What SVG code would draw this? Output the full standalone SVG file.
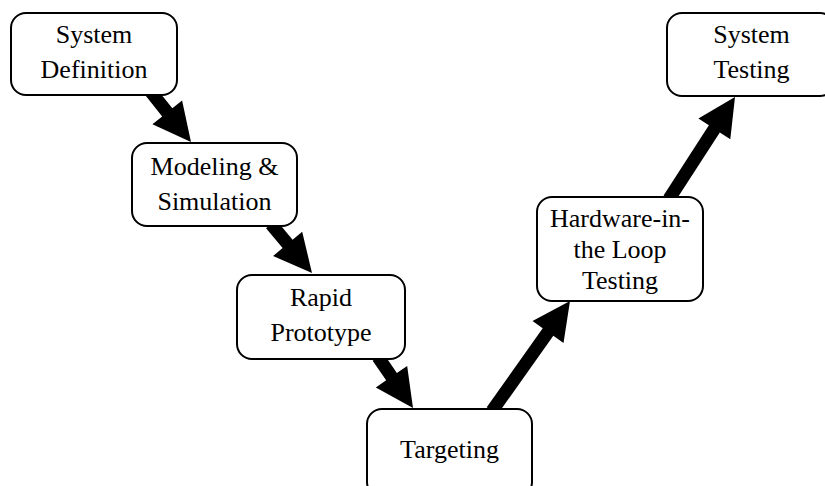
<svg xmlns="http://www.w3.org/2000/svg" width="825" height="486" viewBox="0 0 825 486">
  <style>
    .box { fill: #ffffff; stroke: #000000; stroke-width: 2; }
    .label { font-family: "Liberation Serif", "Times New Roman", serif; font-size: 26px; fill: #000000; text-anchor: middle; }
    .arrow { fill: #000000; stroke: none; }
  </style>
  <rect width="825" height="486" fill="#ffffff"/>

  <!-- thick block arrows between stages -->
  <g id="connectors">
    <polygon class="arrow" points="156.08,87.94 172.34,108.27 182.10,100.46 191,142 152.42,124.20 162.18,116.39 145.92,96.06"/>
    <polygon class="arrow" points="275.98,219.83 292.60,239.69 302.19,231.67 312,273 273.05,256.05 282.64,248.03 266.02,228.17"/>
    <polygon class="arrow" points="383.36,353.32 396.86,372.99 407.17,365.92 413,408 375.83,387.42 386.14,380.35 372.64,360.68"/>
    <polygon class="arrow" points="486.70,407.24 542.72,328.24 532.52,321.01 570,301 563.52,342.99 553.32,335.76 497.30,414.76"/>
    <polygon class="arrow" points="663.54,195.47 708.89,125.37 698.40,118.58 735,97 730.30,139.22 719.81,132.43 674.46,202.53"/>
  </g>

  <g id="system-definition">
    <rect class="box" x="11" y="13" width="166" height="82" rx="15" ry="15"/>
    <text class="label" x="94" y="43">System</text>
    <text class="label" x="94" y="78">Definition</text>
  </g>

  <g id="modeling-simulation">
    <rect class="box" x="132" y="143" width="165" height="83" rx="15" ry="15"/>
    <text class="label" x="214.5" y="174.5">Modeling &amp;</text>
    <text class="label" x="214.5" y="210">Simulation</text>
  </g>

  <g id="rapid-prototype">
    <rect class="box" x="237" y="275" width="168" height="84" rx="15" ry="15"/>
    <text class="label" x="321" y="305.5">Rapid</text>
    <text class="label" x="321" y="341">Prototype</text>
  </g>

  <g id="targeting">
    <rect class="box" x="367" y="409" width="165" height="88" rx="15" ry="15"/>
    <text class="label" x="449.5" y="458">Targeting</text>
  </g>

  <g id="hardware-in-the-loop">
    <rect class="box" x="537" y="197" width="166" height="104" rx="15" ry="15"/>
    <text class="label" x="620" y="227">Hardware-in-</text>
    <text class="label" x="620" y="258">the Loop</text>
    <text class="label" x="620" y="289">Testing</text>
  </g>

  <g id="system-testing">
    <rect class="box" x="667" y="13" width="168" height="83" rx="15" ry="15"/>
    <text class="label" x="751.5" y="43">System</text>
    <text class="label" x="751.5" y="78">Testing</text>
  </g>
</svg>
